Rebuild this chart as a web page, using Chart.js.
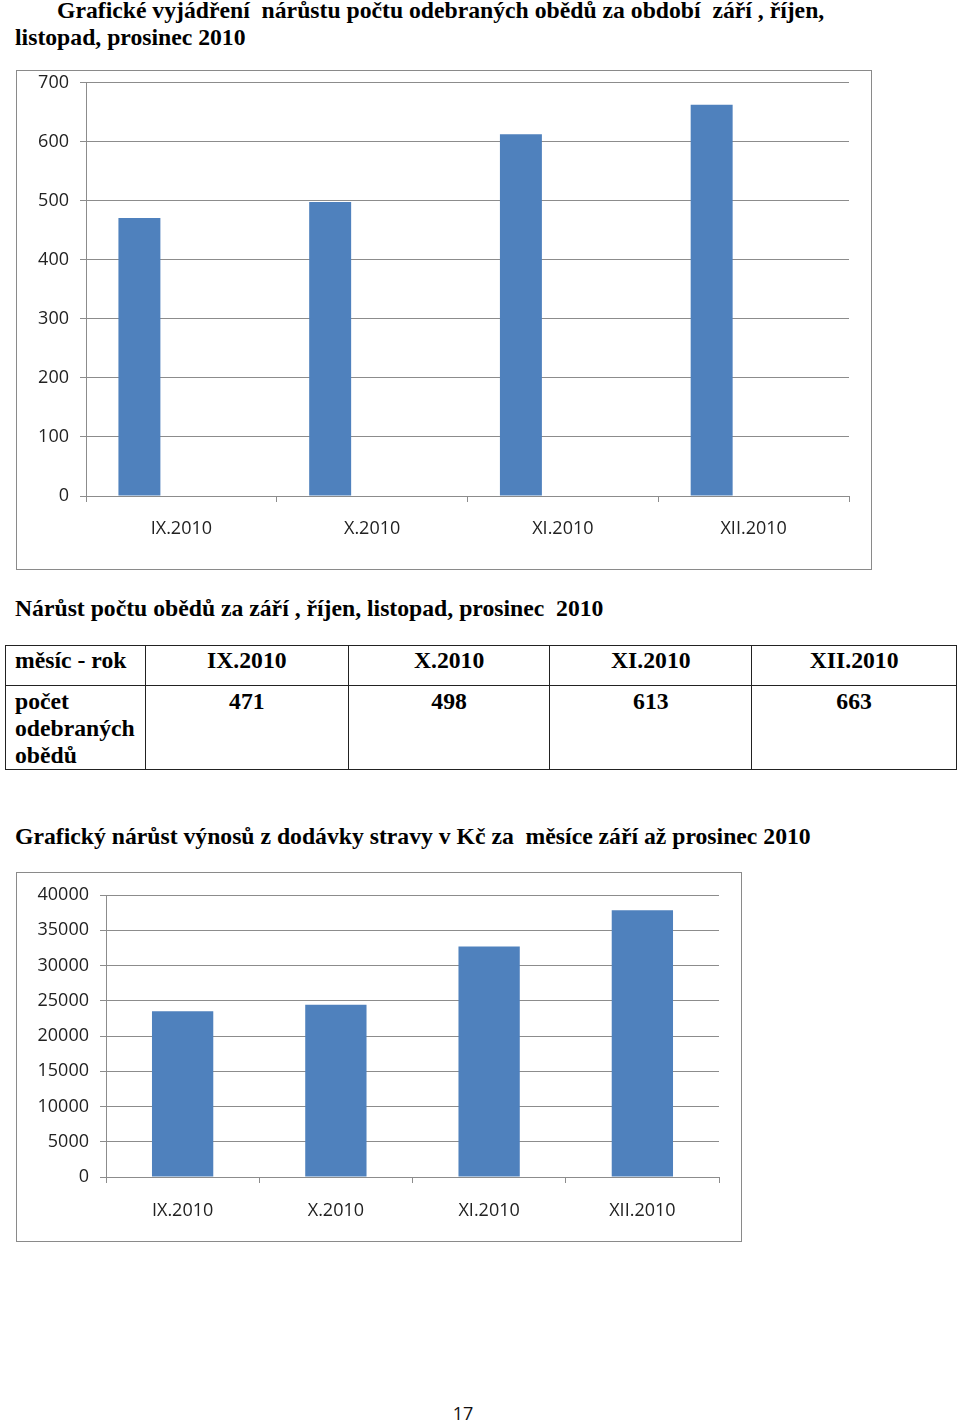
<!DOCTYPE html>
<html lang="cs">
<head>
<meta charset="utf-8">
<script src="https://cdn.jsdelivr.net/npm/chart.js@4.4.1/dist/chart.umd.min.js"></script>
<style>
  html, body { margin:0; padding:0; background:#fff; }
  body { width:960px; height:1423px; position:relative; overflow:hidden; }
  .serif { font-family:"Liberation Serif","Times New Roman",serif; font-weight:bold; font-size:23.7px; line-height:27px; color:#000; white-space:pre; position:absolute; }
  .frame { position:absolute; border:1.5px solid #8a8a8a; box-sizing:border-box; background:#fff; overflow:visible; }
  .frame canvas { position:absolute; left:0; }
  table { position:absolute; left:5px; top:645px; width:952px; border-collapse:collapse; font-family:"Liberation Serif","Times New Roman",serif; font-weight:bold; font-size:23.7px; line-height:27px; color:#000; }
  td { border:1.3px solid #222; vertical-align:top; text-align:center; padding:0; }
  td.lab { text-align:left; padding-left:9px; }
  tr.r1 td { height:40px; padding-top:1px; box-sizing:border-box; }
  tr.r2 td { height:83px; padding-top:2px; box-sizing:border-box; }
  #pg { position:absolute; left:0; width:926px; text-align:center; top:1403px; font-family:"Open Sans",sans-serif; font-size:18px; line-height:20px; color:#111; }
</style>
</head>
<body>
<div class="serif" style="left:15px; top:-3px; text-indent:42px;">Grafické vyjádření  nárůstu počtu odebraných obědů za období  září , říjen,
listopad, prosinec 2010</div>

<div class="frame" style="left:16px; top:70px; width:856px; height:500px;">
  <canvas id="c1" width="853" height="507" style="top:-10px;"></canvas>
</div>

<div class="serif" style="left:15px; top:595px;">Nárůst počtu obědů za září , říjen, listopad, prosinec  2010</div>

<table>
  <colgroup><col style="width:140px"><col style="width:203px"><col style="width:202px"><col style="width:202px"><col style="width:205px"></colgroup>
  <tbody id="tb"></tbody>
</table>

<div class="serif" style="left:15px; top:823px;">Grafický nárůst výnosů z dodávky stravy v Kč za  měsíce září až prosinec 2010</div>

<div class="frame" style="left:16px; top:872px; width:726px; height:370px;">
  <canvas id="c2" width="723" height="367" style="top:0;"></canvas>
</div>

<div id="pg">17</div>

<script>
// ---- data ----
const categories = ["IX.2010", "X.2010", "XI.2010", "XII.2010"];
const mealsCount = [471, 498, 613, 663];          // počet odebraných obědů
const emptySeries = [null, null, null, null];      // empty series present in the original chart
const revenueCzk = [23500, 24450, 32700, 37850];   // výnosy z dodávky stravy v Kč
const tableRowLabels = ["měsíc - rok", "počet\nodebraných\nobědů"];
const mealsTicks = { min: 0, max: 700, step: 100 };
const revenueTicks = { min: 0, max: 40000, step: 5000 };

// ---- table ----
const tb = document.getElementById('tb');
const r1 = document.createElement('tr'); r1.className = 'r1';
const r2 = document.createElement('tr'); r2.className = 'r2';
let h = document.createElement('td'); h.className = 'lab'; h.textContent = tableRowLabels[0]; r1.appendChild(h);
let l = document.createElement('td'); l.className = 'lab'; l.innerHTML = tableRowLabels[1].split('\n').join('<br>'); r2.appendChild(l);
categories.forEach((c, i) => {
  const a = document.createElement('td'); a.textContent = c; r1.appendChild(a);
  const b = document.createElement('td'); b.textContent = String(mealsCount[i]); r2.appendChild(b);
});
tb.appendChild(r1); tb.appendChild(r2);

// ---- charts ----
const BLUE = '#4F81BD';
const GRID = '#8c8c8c';
const TICKFONT = { family: '"Open Sans", sans-serif', size: 18 };

function makeChart(id, datasets, ticks, opts) {
  return new Chart(document.getElementById(id), {
    type: 'bar',
    data: { labels: categories, datasets },
    options: {
      responsive: false,
      animation: false,
      devicePixelRatio: 1,
      layout: { padding: opts.padding },
      plugins: { legend: { display: false }, tooltip: { enabled: false }, title: { display: false } },
      scales: {
        x: {
          grid: { drawOnChartArea: false, drawTicks: true, tickLength: 6, color: GRID, offset: true },
          border: { display: true, color: GRID, width: 1 },
          ticks: { font: TICKFONT, color: '#222', padding: opts.xPad, maxRotation: 0 },
          afterFit: s => { s.height = opts.xHeight; }
        },
        y: {
          min: ticks.min, max: ticks.max,
          grid: { color: GRID, lineWidth: 1, tickLength: 6, drawTicks: true },
          border: { display: true, color: GRID, width: 1 },
          ticks: { stepSize: ticks.step, font: TICKFONT, color: '#222', padding: opts.yPad, callback: v => String(v) },
          afterFit: s => { s.width = opts.yWidth; }
        }
      }
    }
  });
}

makeChart('c1', [
  { data: mealsCount, backgroundColor: BLUE, categoryPercentage: 0.66, barPercentage: 1 },
  { data: emptySeries, backgroundColor: BLUE, categoryPercentage: 0.66, barPercentage: 1 },
  { data: emptySeries, backgroundColor: BLUE, categoryPercentage: 0.66, barPercentage: 1 }
], mealsTicks, { padding: { top: 21, right: 21, left: 0, bottom: 0 }, xHeight: 72, yWidth: 69, xPad: 16, yPad: 11 });

makeChart('c2', [
  { data: revenueCzk, backgroundColor: BLUE, categoryPercentage: 1, barPercentage: 0.4 }
], revenueTicks, { padding: { top: 22, right: 21, left: 0, bottom: 0 }, xHeight: 63, yWidth: 89, xPad: 17, yPad: 11 });
</script>
</body>
</html>
